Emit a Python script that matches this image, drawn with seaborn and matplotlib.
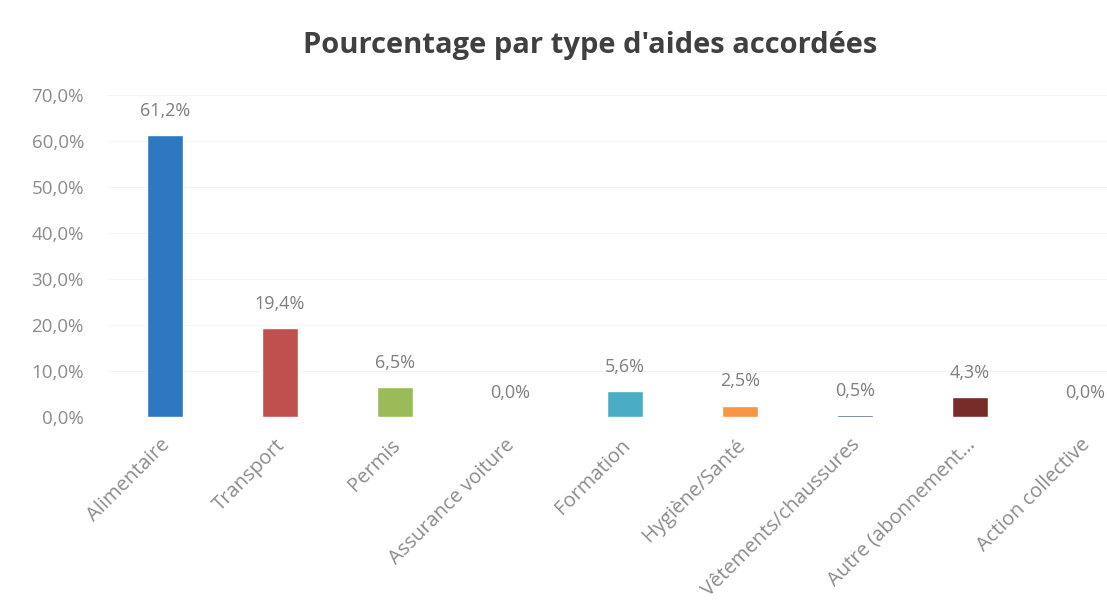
import matplotlib
matplotlib.use("Agg")
import matplotlib.pyplot as plt
import matplotlib.transforms as mtransforms
import seaborn as sns
import pandas as pd

categories = ["Alimentaire", "Transport", "Permis", "Assurance voiture", "Formation",
              "Hygiène/Santé", "Vêtements/chaussures", "Autre (abonnement…", "Action collective"]
values = [61.2, 19.4, 6.5, 0.0, 5.6, 2.5, 0.5, 4.3, 0.0]
colors = ["#2E78C2", "#C0504D", "#9BBB59", "#8064A2", "#4BACC6",
          "#F79646", "#2C4D75", "#772C2A", "#5F7530"]
yticks = [0, 10, 20, 30, 40, 50, 60, 70]

sns.set_theme(style="white")
plt.rcParams['font.family'] = ['Open Sans', 'DejaVu Sans']

df = pd.DataFrame({"cat": categories, "val": values})

fig = plt.figure(figsize=(11.07, 6.06), dpi=100)
ax = fig.add_axes([107.5/1107, 1 - 417/606, 1035/1107, (417-95)/606])
sns.barplot(data=df, x="cat", y="val", hue="cat", palette=colors, legend=False,
            width=0.31, ax=ax, saturation=1)
ax.set_ylim(0, 70)
ax.set_xlim(-0.5, len(categories) - 0.5)
ax.set_yticks(yticks)
ax.set_yticklabels([f"{v:.1f}%".replace(".", ",") for v in yticks], color="#8C8C8C", fontsize=13.5)
ax.set_xticks(range(len(categories)))
ax.set_xticklabels(categories, rotation=45, ha="right", rotation_mode="anchor",
                   color="#8C8C8C", fontsize=14.5)
ax.tick_params(axis="x", pad=13, length=0)
ax.tick_params(axis="y", pad=17, length=0)
shift = mtransforms.ScaledTranslation(-5/100, 0, fig.dpi_scale_trans)
for lab in ax.get_xticklabels():
    lab.set_transform(lab.get_transform() + shift)
ax.set_xlabel("")
ax.set_ylabel("")
ax.grid(axis="y", color="#F4F4F4", linewidth=0.8)
ax.set_axisbelow(True)
for s in ax.spines.values():
    s.set_visible(False)

for i, v in enumerate(values):
    ax.text(i, v + 3.3, f"{v:.1f}%".replace(".", ","), ha="center", va="bottom",
            color="#7F7F7F", fontsize=13)

fig.text(590/1107, 1 - 45/606, "Pourcentage par type d'aides accordées", ha="center", va="center",
         fontsize=21, fontweight="bold", color="#404040")

fig.savefig("out.png", dpi=100, facecolor="white")
